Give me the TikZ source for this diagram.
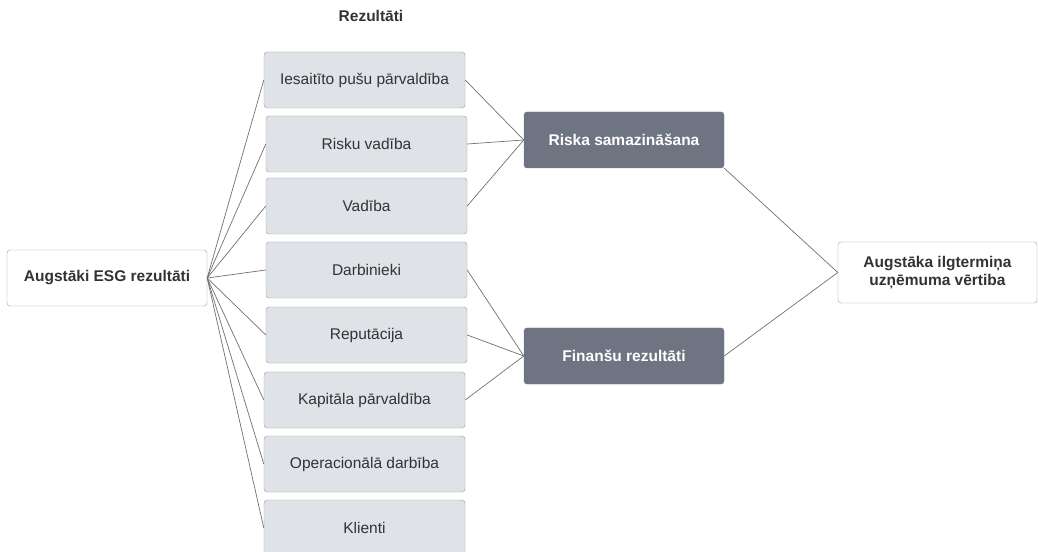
\documentclass[tikz,border=0pt]{standalone}
\usepackage{fontspec}
\setmainfont{Liberation Sans}
\definecolor{boxfill}{HTML}{DFE2E7}
\definecolor{boxline}{HTML}{9A9EA6}
\definecolor{darkfill}{HTML}{6E7482}
\definecolor{textgray}{HTML}{333333}
\definecolor{edgegray}{HTML}{707070}
\tikzset{
  result/.style={draw=boxline, fill=boxfill, rounded corners=3bp, minimum width=201bp,
    minimum height=56bp, inner sep=0pt, text=textgray, font=\fontsize{15.5bp}{18bp}\selectfont},
  effect/.style={draw=darkfill, fill=darkfill, rounded corners=3bp, minimum width=200bp,
    minimum height=56bp, inner sep=0pt, text=white, font=\bfseries\fontsize{15.5bp}{18bp}\selectfont},
  endbox/.style={draw=boxline, fill=white, rounded corners=3bp, minimum height=56bp,
    inner sep=0pt, text=textgray, align=center, font=\bfseries\fontsize{15.5bp}{18bp}\selectfont}
}
\begin{document}
\begin{tikzpicture}[x=1bp,y=-1bp]
      \useasboundingbox (0,0) rectangle (1039,552);
      \node[text=textgray, font=\bfseries\fontsize{15.5bp}{18bp}\selectfont] (title) at (371,16) {Rezultāti};
      \draw
        (107,278) node[endbox, minimum width=200bp] (esg){Augstāki ESG rezultāti}
        (364.5,80) node[result] (iesaitito){Iesaitīto pušu pārvaldība}
        (366.5,144) node[result] (risku){Risku vadība}
        (366.5,206) node[result] (vadiba){Vadība}
        (366.5,270) node[result] (darbinieki){Darbinieki}
        (366.5,335) node[result] (reputacija){Reputācija}
        (364.5,400) node[result] (kapitals){Kapitāla pārvaldība}
        (364.5,464) node[result] (operacionala){Operacionālā darbība}
        (364.5,528) node[result] (klienti){Klienti}
        (624,140) node[effect] (riska){Riska samazināšana}
        (624,356) node[effect] (finansu){Finanšu rezultāti}
        (937.5,272.5) node[endbox, minimum width=199bp, minimum height=61bp] (vertiba){Augstāka ilgtermiņa\\uzņēmuma vērtiba};
      \begin{scope}[-, draw=edgegray, line width=0.7bp]
        \draw (esg.east) to (iesaitito.west);
        \draw (esg.east) to (risku.west);
        \draw (esg.east) to (vadiba.west);
        \draw (esg.east) to (darbinieki.west);
        \draw (esg.east) to (reputacija.west);
        \draw (esg.east) to (kapitals.west);
        \draw (esg.east) to (operacionala.west);
        \draw (esg.east) to (klienti.west);
        \draw (iesaitito.east) to (riska.west);
        \draw (risku.east) to (riska.west);
        \draw (vadiba.east) to (riska.west);
        \draw (darbinieki.east) to (finansu.west);
        \draw (reputacija.east) to (finansu.west);
        \draw (kapitals.east) to (finansu.west);
        \draw (riska.south east) to (vertiba.west);
        \draw (finansu.east) to (vertiba.west);
      \end{scope}
    \end{tikzpicture}
\end{document}
